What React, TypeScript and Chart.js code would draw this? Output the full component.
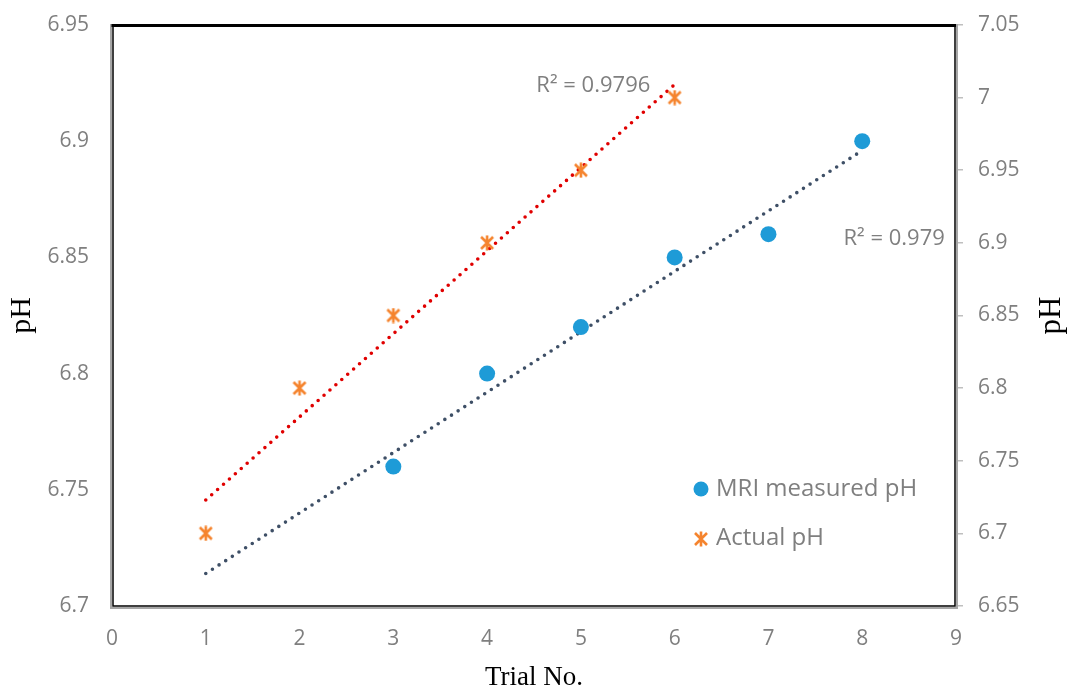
import React, { useEffect, useRef } from "react";
import { Chart, registerables } from "chart.js";

Chart.register(...registerables);

// ---- data ----
const mriTrials = [3, 4, 5, 6, 7, 8];
const mriPH = [6.76, 6.8, 6.82, 6.85, 6.86, 6.9];
const actualTrials = [1, 2, 3, 4, 5, 6];
const actualPH = [6.7, 6.8, 6.85, 6.9, 6.95, 7.0];
const mriTrendX = [1, 8];
const mriTrendY = [6.714, 6.896];
const actualTrendX = [1, 6];
const actualTrendY = [6.723, 7.009];
const mriR2Text = "R² = 0.979";
const actualR2Text = "R² = 0.9796";
const xTicks = [0, 1, 2, 3, 4, 5, 6, 7, 8, 9];
const leftTicks = [6.7, 6.75, 6.8, 6.85, 6.9, 6.95];
const rightTicks = [6.65, 6.7, 6.75, 6.8, 6.85, 6.9, 6.95, 7, 7.05];
const seriesNames = ["MRI measured pH", "Actual pH"];

const BLUE = "#1E9BD7";
const ORANGE = "#F5842E";
const RED_TREND = "#E00000";
const DARK_TREND = "#3E4F66";
const GRAY_TEXT = "#7f7f7f";
const SANS = "'Open Sans', sans-serif";
const SERIF = "'Liberation Serif', serif";

function makeStar(size: number, color: string, lw: number): HTMLCanvasElement {
  const c = document.createElement("canvas");
  c.width = size;
  c.height = size;
  const g = c.getContext("2d")!;
  g.strokeStyle = color;
  g.lineWidth = lw;
  const m = 2;
  const s = size - 2;
  g.beginPath();
  g.moveTo(m, m);
  g.lineTo(s, s);
  g.moveTo(s, m);
  g.lineTo(m, s);
  g.moveTo(size / 2, 0.5);
  g.lineTo(size / 2, size - 0.5);
  g.stroke();
  return c;
}

const framePlugin = {
  id: "frame",
  beforeDatasetsDraw(chart: any) {
    const { ctx, chartArea: a } = chart;
    ctx.save();
    // outer gray line
    ctx.strokeStyle = "#a6a6a6";
    ctx.lineWidth = 2;
    ctx.beginPath();
    ctx.moveTo(a.left - 1, a.top - 1);
    ctx.lineTo(a.left - 1, a.bottom + 2);
    ctx.lineTo(a.right + 1, a.bottom + 2);
    ctx.lineTo(a.right + 1, a.top - 1);
    ctx.stroke();
    // inner black line
    ctx.strokeStyle = "#000";
    ctx.lineWidth = 1.5;
    ctx.beginPath();
    ctx.moveTo(a.left + 1, a.top);
    ctx.lineTo(a.left + 1, a.bottom);
    ctx.lineTo(a.right - 1, a.bottom);
    ctx.lineTo(a.right - 1, a.top);
    ctx.stroke();
    // thick top
    ctx.lineWidth = 3;
    ctx.beginPath();
    ctx.moveTo(a.left - 0.5, a.top + 0.5);
    ctx.lineTo(a.right, a.top + 0.5);
    ctx.stroke();
    ctx.restore();
  },
};

const annotationPlugin = {
  id: "annot",
  afterDraw(chart: any, _args: any, opts: any) {
    const { ctx, chartArea: a, scales } = chart;
    ctx.save();
    // R² labels
    ctx.fillStyle = GRAY_TEXT;
    ctx.font = `22px ${SANS}`;
    ctx.textBaseline = "middle";
    for (const lab of opts.labels) {
      const px = scales.x.getPixelForValue(lab.x);
      const py = scales[lab.axis].getPixelForValue(lab.y);
      ctx.textAlign = lab.align;
      ctx.fillText(lab.text, px, py);
    }
    // legend
    const lx = a.left + opts.legend.dx;
    let ly = a.top + opts.legend.dy;
    ctx.font = `24px ${SANS}`;
    ctx.textAlign = "left";
    chart.data.datasets.forEach((ds: any) => {
      if (!ds.inLegend) return;
      if (ds.pointStyle === "circle") {
        ctx.fillStyle = ds.backgroundColor;
        ctx.beginPath();
        ctx.arc(lx, ly, 7.5, 0, Math.PI * 2);
        ctx.fill();
      } else {
        const img = ds.pointStyle as HTMLCanvasElement;
        ctx.drawImage(img, lx - img.width / 2, ly - img.height / 2 + 1);
      }
      ctx.fillStyle = GRAY_TEXT;
      ctx.fillText(ds.label, lx + 15, ly);
      ly += opts.legend.gap;
    });
    // right axis title (rotated like the left one)
    ctx.fillStyle = "#000";
    ctx.font = `31px ${SERIF}`;
    ctx.textAlign = "center";
    ctx.textBaseline = "alphabetic";
    ctx.translate(opts.rightTitle.x, (a.top + a.bottom) / 2);
    ctx.rotate(-Math.PI / 2);
    ctx.fillText(opts.rightTitle.text, 0, 0);
    ctx.restore();
  },
};

export default function App() {
  const ref = useRef<HTMLCanvasElement | null>(null);

  useEffect(() => {
    if (!ref.current) return;
    const star = makeStar(16, ORANGE, 2.6);
    const chart = new Chart(ref.current, {
      type: "scatter",
      data: {
        datasets: [
          {
            label: seriesNames[0],
            data: mriTrials.map((x, i) => ({ x, y: mriPH[i] })),
            yAxisID: "y",
            pointStyle: "circle",
            pointRadius: 8,
            pointBorderWidth: 0,
            backgroundColor: BLUE,
            borderColor: BLUE,
            inLegend: true,
          } as any,
          {
            label: seriesNames[1],
            data: actualTrials.map((x, i) => ({ x, y: actualPH[i] })),
            yAxisID: "y2",
            pointStyle: star,
            pointRadius: 8,
            backgroundColor: ORANGE,
            borderColor: ORANGE,
            inLegend: true,
          } as any,
          {
            label: "trend MRI",
            data: mriTrendX.map((x, i) => ({ x, y: mriTrendY[i] })),
            yAxisID: "y",
            showLine: true,
            pointRadius: 0,
            borderColor: DARK_TREND,
            borderWidth: 3.6,
            borderDash: [0, 7.9],
            borderCapStyle: "round",
          } as any,
          {
            label: "trend Actual",
            data: actualTrendX.map((x, i) => ({ x, y: actualTrendY[i] })),
            yAxisID: "y2",
            showLine: true,
            pointRadius: 0,
            borderColor: RED_TREND,
            borderWidth: 3.6,
            borderDash: [0, 7.9],
            borderCapStyle: "round",
          } as any,
        ],
      },
      options: {
        responsive: false,
        animation: false,
        layout: { padding: { top: 25, left: 0, right: 0, bottom: 0 } },
        plugins: {
          legend: { display: false },
          tooltip: { enabled: false },
          annot: {
            labels: [
              { text: actualR2Text, x: 5.74, y: 7.008, axis: "y2", align: "right" },
              { text: mriR2Text, x: 7.8, y: 6.858, axis: "y", align: "left" },
            ],
            legend: { dx: 589, dy: 464, gap: 49 },
            rightTitle: { text: "pH", x: 1060 },
          },
        } as any,
        scales: {
          x: {
            type: "linear",
            position: "bottom",
            min: 0,
            max: 9,
            afterBuildTicks: (s: any) => {
              s.ticks = xTicks.map((v) => ({ value: v }));
            },
            afterFit: (s: any) => {
              s.height = 84;
              s.paddingLeft = 0;
              s.paddingRight = 0;
            },
            grid: { display: false, drawTicks: false },
            border: { display: false },
            ticks: {
              padding: 20,
              color: GRAY_TEXT,
              font: { family: SANS, size: 21 },
              callback: (v: any) => String(v),
            },
            title: {
              display: true,
              text: "Trial No.",
              color: "#000",
              font: { family: SERIF, size: 27, lineHeight: 0.9 },
              padding: { top: 0, bottom: 0 },
            },
          },
          y: {
            type: "linear",
            position: "left",
            min: 6.7,
            max: 6.95,
            afterBuildTicks: (s: any) => {
              s.ticks = leftTicks.map((v) => ({ value: v }));
            },
            afterFit: (s: any) => {
              s.width = 112;
              s.paddingTop = 0;
              s.paddingBottom = 0;
            },
            grid: { display: false, drawTicks: false },
            border: { display: false },
            ticks: {
              padding: 23,
              color: GRAY_TEXT,
              font: { family: SANS, size: 21 },
              callback: (v: any) => String(v),
            },
            title: {
              display: true,
              text: "pH",
              color: "#000",
              font: { family: SERIF, size: 30, lineHeight: 1 },
              padding: { top: 7, bottom: 0 },
            },
          },
          y2: {
            type: "linear",
            position: "right",
            min: 6.65,
            max: 7.05,
            afterBuildTicks: (s: any) => {
              s.ticks = rightTicks.map((v) => ({ value: v }));
            },
            afterFit: (s: any) => {
              s.width = 113;
              s.paddingTop = 0;
              s.paddingBottom = 0;
            },
            grid: {
              display: true,
              drawOnChartArea: false,
              drawTicks: true,
              tickLength: 7,
              color: "#bfbfbf",
              lineWidth: 1.5,
            },
            border: { display: false },
            ticks: {
              padding: 15,
              color: GRAY_TEXT,
              font: { family: SANS, size: 21 },
              callback: (v: any) => String(v),
            },
          },
        },
      },
      plugins: [framePlugin, annotationPlugin],
    });
    return () => chart.destroy();
  }, []);

  return (
    <div style={{ position: "absolute", left: 0, top: 0, width: 1069, height: 690, background: "#fff" }}>
      <canvas ref={ref} width={1069} height={690} style={{ width: 1069, height: 690, display: "block" }} />
    </div>
  );
}
